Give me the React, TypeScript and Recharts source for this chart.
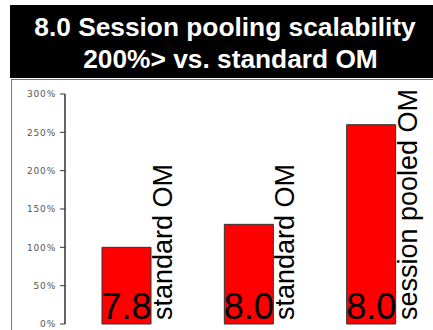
import React from 'react';
import { BarChart, Bar, XAxis, YAxis, LabelList } from 'recharts';

const categories = ['standard OM', 'standard OM', 'session pooled OM'];
const versions = ['7.8', '8.0', '8.0'];
const scalability = [100, 130, 260];
const yTicks = [0, 50, 100, 150, 200, 250, 300];
const titleLines = ['8.0 Session pooling scalability', '200%> vs. standard OM'];

const data = categories.map((c, i) => ({ category: c, version: versions[i], value: scalability[i] }));

const FONT = '"Liberation Sans", Arial, sans-serif';

const VersionLabel = (props: any) => {
  const { x, y, width, height, value } = props;
  return (
    <text x={x + width / 2} y={y + height - 5} textAnchor="middle" fontFamily={FONT} fontSize={36} fill="#000">
      {value}
    </text>
  );
};

const NameLabel = (props: any) => {
  const { x, y, width, height, value } = props;
  const tx = x + width + 21;
  const ty = y + height - 4;
  return (
    <text x={tx} y={ty} transform={`rotate(-90, ${tx}, ${ty})`} textAnchor="start" fontFamily={FONT} fontSize={27} fill="#000">
      {value}
    </text>
  );
};

export default function App() {
  return (
    <div style={{ position: 'absolute', left: 0, top: 0, width: 433, height: 330, background: '#fff', overflow: 'hidden' }}>
      <svg width={433} height={80} style={{ position: 'absolute', left: 0, top: 0 }}>
        <rect x={10} y={5} width={430} height={73} fill="#000" />
        <text x={225} y={36} textAnchor="middle" fontFamily={FONT} fontWeight="bold" fontSize={26.3} fill="#fff">
          {titleLines[0]}
        </text>
        <text x={230.5} y={68} textAnchor="middle" fontFamily={FONT} fontWeight="bold" fontSize={26.3} fill="#fff">
          {titleLines[1]}
        </text>
      </svg>
      <div style={{ position: 'absolute', left: 11, top: 79, width: 430, height: 260, borderLeft: '1px solid #777', borderTop: '1px solid #777' }} />
      <div style={{ position: 'absolute', left: 0, top: 0 }}>
        <BarChart width={433} height={330} data={data} margin={{ top: 94, right: 1, bottom: 6, left: 12 }}>
          <XAxis xAxisId="cat" dataKey="category" hide />
          <XAxis
            xAxisId="num"
            type="number"
            domain={[0, 3]}
            ticks={[1, 2]}
            allowDataOverflow
            tick={false}
            tickSize={4}
            height={0}
            axisLine={{ stroke: '#333', strokeWidth: 1.5 }}
            tickLine={{ stroke: '#333' }}
          />
          <YAxis
            domain={[0, 300]}
            ticks={yTicks}
            width={53}
            tickSize={5}
            tickMargin={4}
            tickFormatter={(v: number) => `${v}%`}
            axisLine={{ stroke: '#333', strokeWidth: 1.5 }}
            tickLine={{ stroke: '#333' }}
            tick={{ fill: '#555', fontSize: 9, fontFamily: '"DejaVu Sans", sans-serif', letterSpacing: 0.8 }}
          />
          <Bar xAxisId="cat" dataKey="value" fill="#ff0000" stroke="#333" strokeWidth={1} barSize={49} isAnimationActive={false}>
            <LabelList dataKey="version" content={VersionLabel} />
            <LabelList dataKey="category" content={NameLabel} />
          </Bar>
        </BarChart>
      </div>
    </div>
  );
}
